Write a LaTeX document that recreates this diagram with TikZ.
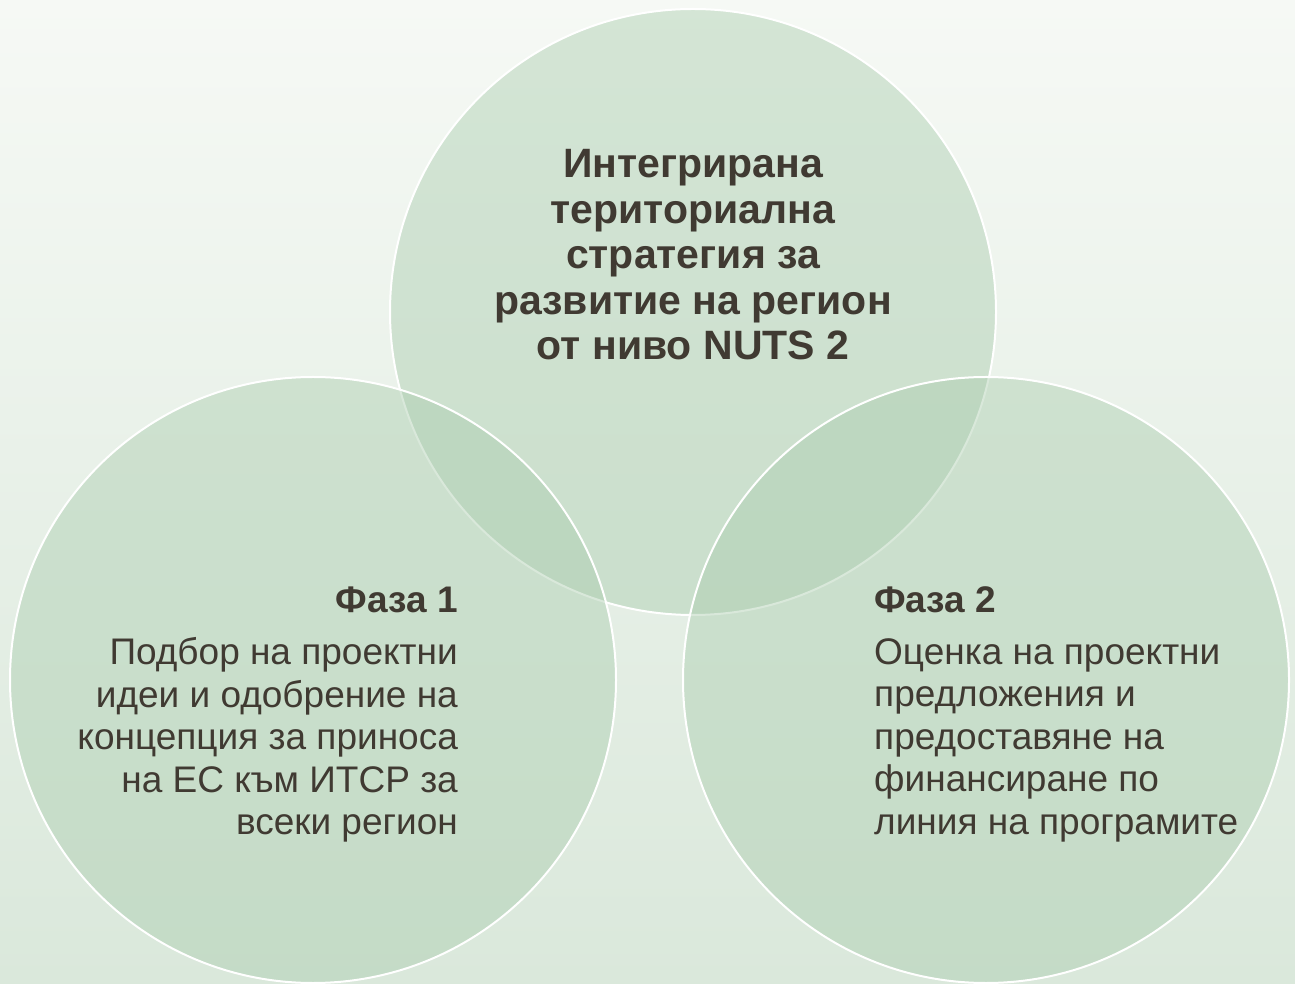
\documentclass[tikz,border=0pt]{standalone}
\usepackage{fontspec}
\setmainfont{Liberation Sans}

\definecolor{bgtop}{RGB}{246,249,245}
\definecolor{bgbottom}{RGB}{218,232,219}
\definecolor{vennfill}{RGB}{171,205,175}
\definecolor{inktext}{RGB}{64,58,50}

\tikzset{
  venn/.style={circle, minimum size=606pt, inner sep=0pt, fill=vennfill,
    fill opacity=0.45, draw=white, line width=2pt},
  heading/.style={inner sep=0pt, text=inktext, font=\bfseries\fontsize{37}{45}\selectfont},
  body/.style={inner sep=0pt, text=inktext, font=\fontsize{37}{42.5}\selectfont},
}

\begin{document}
\begin{tikzpicture}[x=1pt, y=1pt]
        % Background
        \useasboundingbox (0, 0) rectangle (1295, 983);
        \shade[top color=bgtop, bottom color=bgbottom] (0, 0) rectangle (1295, 983);
        \clip (0, 0) rectangle (1295, 983);

        % Draw the three circles
        \node[venn] (strategycircle) at (693, 671) {};
        \node[venn] (phaseonecircle) at (313, 303) {};
        \node[venn] (phasetwocircle) at (986, 303) {};

        % Strategy text in the top circle
        \node[heading, align=center, font=\bfseries\fontsize{41}{45.5}\selectfont] (strategy) at (693, 728)
          {Интегрирана\\териториална\\стратегия за\\развитие на регион\\от ниво NUTS 2};

        % Phase 1 in the left circle
        \node[heading, anchor=east] (phaseonetitle) at (458, 383) {Фаза 1};
        \node[body, align=right, anchor=east] (phaseone) at (458, 243)
          {Подбор на проектни\\идеи и одобрение на\\концепция за приноса\\на ЕС към ИТСР за\\всеки регион};

        % Phase 2 in the right circle
        \node[heading, anchor=west] (phasetwotitle) at (874, 383) {Фаза 2};
        \node[body, align=left, anchor=west] (phasetwo) at (874, 243)
          {Оценка на проектни\\предложения и\\предоставяне на\\финансиране по\\линия на програмите};
\end{tikzpicture}
\end{document}
